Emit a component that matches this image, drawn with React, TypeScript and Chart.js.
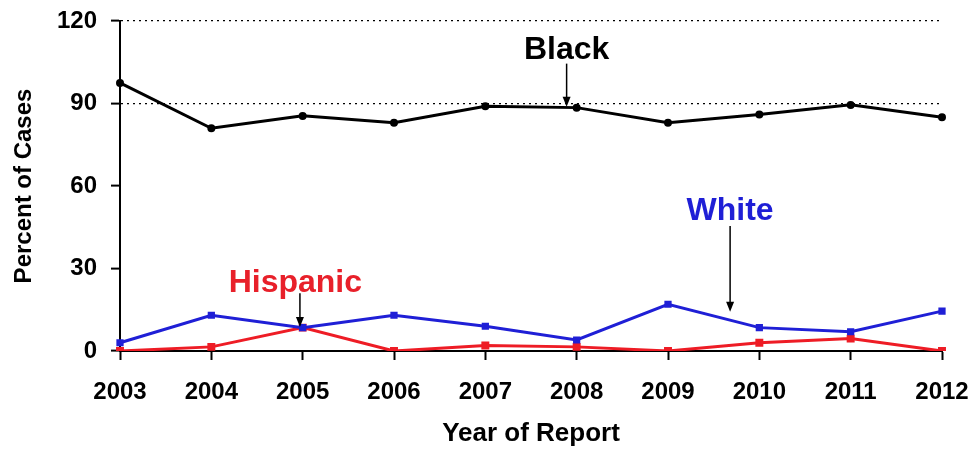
import React, { useEffect, useRef } from "react";
import { Chart, registerables } from "chart.js";

Chart.register(...registerables);

const years = ["2003", "2004", "2005", "2006", "2007", "2008", "2009", "2010", "2011", "2012"];
const blackValues = [97.5, 81, 85.5, 83, 89, 88.5, 83, 86, 89.5, 85];
const whiteValues = [3, 13, 8.5, 13, 9, 4, 17, 8.5, 7, 14.5];
const hispanicValues = [0, 1.5, 8.5, 0, 2, 1.5, 0, 3, 4.5, 0];
const yTicks = [0, 30, 60, 90, 120];
const dottedGridValues = [90, 120];

// annotation labels
const labelTexts = ["Black", "White", "Hispanic"];
const labelColors = ["#000000", "#1f1fd6", "#e8202a"];
const labelX = [4.89, 6.68, 1.92];
const labelY = [109.5, 51, 24.7];
const arrowX = [4.89, 6.68, 1.97];
const arrowFrom = [104.5, 45.5, 21];
const arrowTo = [88.8, 14.3, 8.7];

const annotationPlugin = {
  id: "labelsArrows",
  afterDatasetsDraw(chart: any) {
    const { ctx, scales } = chart;
    const xs = scales.x;
    const ys = scales.y;
    ctx.save();
    for (let i = 0; i < labelTexts.length; i++) {
      ctx.font = "bold 32px 'Liberation Sans', Arial, sans-serif";
      ctx.fillStyle = labelColors[i];
      ctx.textAlign = "center";
      ctx.textBaseline = "middle";
      ctx.fillText(labelTexts[i], xs.getPixelForValue(labelX[i]), ys.getPixelForValue(labelY[i]));
      const ax = xs.getPixelForValue(arrowX[i]);
      const y1 = ys.getPixelForValue(arrowFrom[i]);
      const y2 = ys.getPixelForValue(arrowTo[i]);
      ctx.strokeStyle = "#000";
      ctx.lineWidth = 1.5;
      ctx.beginPath();
      ctx.moveTo(ax, y1);
      ctx.lineTo(ax, y2 - 8);
      ctx.stroke();
      ctx.fillStyle = "#000";
      ctx.beginPath();
      ctx.moveTo(ax - 4, y2 - 10);
      ctx.lineTo(ax + 4, y2 - 10);
      ctx.lineTo(ax, y2);
      ctx.closePath();
      ctx.fill();
    }
    ctx.restore();
  },
};

export default function App() {
  const ref = useRef<HTMLCanvasElement>(null);
  useEffect(() => {
    if (!ref.current) return;
    const chart = new Chart(ref.current, {
      type: "line",
      data: {
        labels: years,
        datasets: [
          {
            label: "Black",
            data: blackValues,
            borderColor: "#000000",
            backgroundColor: "#000000",
            borderWidth: 3,
            pointRadius: 2.5,
            pointStyle: "circle",
            tension: 0,
          },
          {
            label: "White",
            data: whiteValues,
            borderColor: "#1f1fd6",
            backgroundColor: "#1f1fd6",
            borderWidth: 3,
            pointRadius: 3,
            pointStyle: "rect",
            tension: 0,
          },
          {
            label: "Hispanic",
            data: hispanicValues,
            borderColor: "#ee1c25",
            backgroundColor: "#ee1c25",
            borderWidth: 3,
            pointRadius: 3.5,
            pointStyle: "rect",
            tension: 0,
          },
        ],
      },
      options: {
        responsive: false,
        animation: false,
        layout: { padding: { top: 21, right: 28, left: 10, bottom: 0 } },
        plugins: { legend: { display: false }, tooltip: { enabled: false } },
        scales: {
          x: {
            type: "category",
            offset: false,
            afterFit: (s: any) => {
              s.height = 98;
              s.paddingLeft = 0;
              s.paddingRight = 0;
            },
            border: { display: true, color: "#000", width: 2 },
            grid: {
              drawOnChartArea: false,
              drawTicks: true,
              tickLength: 9,
              tickColor: "#000",
              tickWidth: 2,
            },
            ticks: {
              color: "#000",
              padding: 18,
              maxRotation: 0,
              font: { family: "'Liberation Sans', Arial, sans-serif", size: 24, weight: "bold" },
            },
            title: {
              display: true,
              text: "Year of Report",
              color: "#000",
              padding: { top: 4, bottom: 0 },
              font: { family: "'Liberation Sans', Arial, sans-serif", size: 26, weight: "bold" },
            },
          },
          y: {
            min: 0,
            max: 120,
            afterFit: (s: any) => {
              s.width = 110;
              s.paddingTop = 0;
              s.paddingBottom = 0;
            },
            afterBuildTicks: (s: any) => {
              s.ticks = yTicks.map((v) => ({ value: v }));
            },
            border: { display: true, color: "#000", width: 2, dash: [2, 4] },
            grid: {
              drawOnChartArea: true,
              color: (c: any) =>
                c.tick && dottedGridValues.includes(c.tick.value) ? "#000" : "rgba(0,0,0,0)",
              lineWidth: 1.2,
              tickBorderDash: [],
              tickLength: 9,
              tickColor: "#000",
              tickWidth: 2,
            },
            ticks: {
              color: "#000",
              padding: 14,
              font: { family: "'Liberation Sans', Arial, sans-serif", size: 24, weight: "bold" },
            },
            title: {
              display: true,
              text: "Percent of Cases",
              color: "#000",
              padding: { top: 0, bottom: 2 },
              font: { family: "'Liberation Sans', Arial, sans-serif", size: 24, weight: "bold" },
            },
          },
        },
      },
      plugins: [annotationPlugin],
    } as any);
    return () => chart.destroy();
  }, []);
  return (
    <div style={{ position: "fixed", left: 0, top: 0, width: 970, height: 449, background: "#fff" }}>
      <canvas ref={ref} width={970} height={449} />
    </div>
  );
}
